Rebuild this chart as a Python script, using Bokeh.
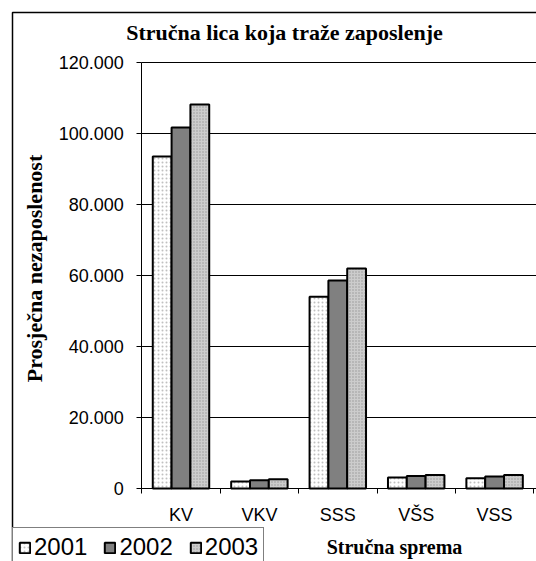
import math
from bokeh.plotting import figure
from bokeh.models import (Range1d, LinearAxis, FixedTicker, Grid,
                          Legend, LegendItem, Label, ColumnDataSource)
from bokeh.transform import dodge
from bokeh.embed import file_html
from bokeh.resources import INLINE

title_text = "Stručna lica koja traže zaposlenje"
x_title = "Stručna sprema"
y_title = "Prosječna nezaposlenost"
categories = ["KV", "VKV", "SSS", "VŠS", "VSS"]
years = ["2001", "2002", "2003"]
v2001 = [93500, 2000, 54000, 3100, 2900]
v2002 = [101700, 2300, 58600, 3500, 3400]
v2003 = [108200, 2600, 62000, 3800, 3800]
y_ticks = [0, 20000, 40000, 60000, 80000, 100000, 120000]
y_tick_labels = ["0", "20.000", "40.000", "60.000", "80.000", "100.000", "120.000"]

n = len(categories)
centers = [i + 0.5 for i in range(n)]
source = ColumnDataSource(dict(x=centers, cat=categories, y2001=v2001, y2002=v2002, y2003=v2003))

W, H = 536, 561
# frame covers the whole canvas; the plot area (0..n, 0..120000) sits inside it
x0_px, x1_px = 141.3, 533.3
y0_px, y1_px = 488.0, 62.0
ux = (x1_px - x0_px) / n
uy = (y0_px - y1_px) / y_ticks[-1]
x_start = -x0_px / ux
x_end = x_start + W / ux
y_end = y_ticks[-1] + y1_px / uy
y_start = -(H - y0_px) / uy

p = figure(x_range=Range1d(x_start, x_end), y_range=Range1d(y_start, y_end),
           width=W, height=H, output_backend="svg", toolbar_location=None,
           x_axis_location=None, y_axis_location=None, min_border=0)
p.title = None
p.outline_line_color = None
p.background_fill_color = "white"
p.border_fill_color = "white"
for g in list(p.grid):
    g.visible = False

grid = Grid(dimension=1, ticker=FixedTicker(ticks=y_ticks), cross_bounds=(0, x_end),
            grid_line_color="black", grid_line_width=1)
p.add_layout(grid)

yax = LinearAxis(fixed_location=0, bounds=(0, y_ticks[-1]),
                 ticker=FixedTicker(ticks=y_ticks, minor_ticks=[]),
                 major_label_overrides={t: l for t, l in zip(y_ticks, y_tick_labels)},
                 axis_line_color="black", major_tick_line_color="black",
                 major_tick_out=5, major_tick_in=0, minor_tick_line_color=None,
                 major_label_standoff=13, major_label_text_font="Liberation Sans",
                 major_label_text_font_size="18px", major_label_text_color="black")
p.add_layout(yax, "left")

# axis line with ticks at category boundaries
bnd_axis = LinearAxis(fixed_location=0, bounds=(0, x_end),
                      ticker=FixedTicker(ticks=list(range(n + 1)), minor_ticks=[]),
                      major_label_overrides={i: "" for i in range(n + 1)},
                      major_label_text_font_size="1px", major_label_standoff=0,
                      axis_line_color="black", major_tick_line_color="black",
                      major_tick_out=5, major_tick_in=0, minor_tick_line_color=None)
# category names at centres
cat_axis = LinearAxis(fixed_location=0,
                      ticker=FixedTicker(ticks=centers, minor_ticks=[]),
                      major_label_overrides={c: k for c, k in zip(centers, categories)},
                      major_tick_line_color=None, major_tick_out=0, major_tick_in=0,
                      minor_tick_line_color=None, axis_line_color=None,
                      major_label_standoff=16,
                      major_label_text_font="Liberation Sans",
                      major_label_text_font_size="18px",
                      major_label_text_color="black")
p.add_layout(bnd_axis, "below")
p.add_layout(cat_axis, "below")

w = 0.24
styles = [
    dict(fill_color="white", hatch_pattern="dot", hatch_color="#c0c0c0", hatch_scale=4),
    dict(fill_color="#808080"),
    dict(fill_color="#cccccc", hatch_pattern="dot", hatch_color="#999999", hatch_scale=3),
]
renderers = []
for i, (yr, st) in enumerate(zip(years, styles)):
    r = p.vbar(x=dodge("x", (i - 1) * w), top="y" + yr, width=w,
               source=source, line_color="black", line_width=2, **st)
    renderers.append(r)

legend = Legend(items=[LegendItem(label=yr, renderers=[r]) for yr, r in zip(years, renderers)],
                location=(12, -6), orientation="horizontal",
                border_line_color="black", border_line_width=1,
                background_fill_color="white", background_fill_alpha=1,
                padding=5, spacing=16, label_standoff=3, glyph_width=13, glyph_height=13,
                label_text_font="Liberation Sans", label_text_font_size="24px",
                label_text_color="black", margin=0)
p.add_layout(legend)

p.add_layout(Label(x=284, y=H - 32, x_units="screen", y_units="screen", text=title_text,
                   text_align="center", text_baseline="middle", text_font="Liberation Serif",
                   text_font_style="bold", text_font_size="22px", text_color="black"))
p.add_layout(Label(x=34, y=H - 268, x_units="screen", y_units="screen", text=y_title,
                   angle=math.pi / 2, text_align="center", text_baseline="middle",
                   text_font="Liberation Serif", text_font_style="bold",
                   text_font_size="22px", text_color="black"))
p.add_layout(Label(x=394, y=H - 546, x_units="screen", y_units="screen", text=x_title,
                   text_align="center", text_baseline="middle", text_font="Liberation Serif",
                   text_font_style="bold", text_font_size="20px", text_color="black"))
# outer chart-area border
p.add_layout(Label(x=12, y=H - 12, x_units="screen", y_units="screen", text=" ",
                   text_align="left", text_baseline="top", text_font_size="1px",
                   padding=dict(top=0, right=800, bottom=800, left=0),
                   border_line_color="black", border_line_width=1.5))

open("out.html", "w").write(file_html(p, INLINE))
